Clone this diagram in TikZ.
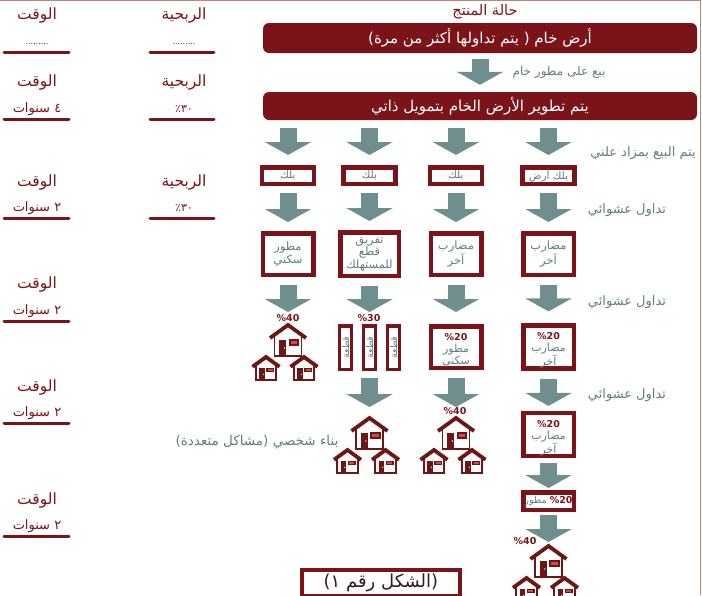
\documentclass[tikz,border=0pt]{standalone}
\usepackage{fontspec}
\usepackage{tikz}
\usetikzlibrary{arrows.meta}
\usetikzlibrary{positioning}
\TeXXeTstate=1
\newfontfamily\arabicfont[Script=Arabic]{DejaVu Sans}
\definecolor{darkred}{RGB}{122,20,24}
\definecolor{tealgray}{RGB}{111,143,143}
\definecolor{textgray}{RGB}{96,126,126}
\definecolor{framebrown}{RGB}{190,130,120}
\definecolor{housered}{RGB}{108,22,22}
\definecolor{winred}{RGB}{205,75,75}
\definecolor{capdark}{RGB}{55,25,25}
\newcommand{\artxt}[1]{\beginR #1\endR}
\newcommand{\pctthirty}{\hbox{٪}\hbox{٣}\hbox{٠}}
\newcommand{\pcttwenty}{\rule{0pt}{14pt}{\color{darkred}\bfseries\fontsize{9.5}{10}\selectfont\%20}}

\begin{document}
\begin{tikzpicture}[
        x=1pt, y=-1pt,
        every node/.append style={inner sep=0pt, font=\arabicfont},
        banner/.style={fill=darkred, rounded corners=6pt, minimum width=434pt, text=white, font=\arabicfont\fontsize{15}{17}\selectfont},
        fat/.style={draw=tealgray, line width=17pt, -{Triangle[width=46pt,length=13pt]}},
        note/.style={text=textgray, font=\arabicfont\fontsize{13}{15}\selectfont},
        head/.style={text=darkred, font=\arabicfont\fontsize{15.5}{17}\selectfont},
        val/.style={text=darkred, font=\arabicfont\fontsize{13}{15}\selectfont},
        uline/.style={draw=darkred, line width=3pt, line cap=round},
        blk/.style={draw=darkred, line width=4.5pt, fill=white, text=textgray, minimum width=52pt, minimum height=16.5pt, font=\arabicfont\fontsize{10.5}{11}\selectfont},
        box/.style={draw=darkred, line width=4.5pt, fill=white, text=textgray, align=center, minimum width=50.5pt, minimum height=41.5pt, font=\arabicfont\fontsize{11.5}{13}\selectfont},
        strip/.style={draw=darkred, line width=3.5pt, fill=white, text=textgray, rotate=90, minimum width=43.5pt, minimum height=12pt, font=\arabicfont\fontsize{9.5}{10}\selectfont},
        pct/.style={text=darkred, font=\arabicfont\bfseries\fontsize{9.5}{10}\selectfont},
        capbox/.style={draw=darkred, line width=4pt, fill=white, text=capdark, minimum width=158pt, minimum height=26pt, font=\arabicfont\fontsize{18}{20}\selectfont},
        house/.pic={
            \draw[housered, line width=3.8pt, line join=miter] (-18,13) -- (0,0) -- (18,13);
            \draw[housered, line width=1.8pt] (-13.5,10) -- (-13.5,31) -- (13.5,31) -- (13.5,10);
            \fill[housered] (-9,15) rectangle (-2,31);
            \fill[white] (-3.6,23) circle (0.8pt);
            \fill[housered] (0.5,14) rectangle (11,20.5);
            \fill[winred] (2.5,15.5) rectangle (9,19);
        }
    ]
        \useasboundingbox (0,0) rectangle (702,595);
        \draw[framebrown, line width=1pt] (0,0.5) -- (700.5,0.5) -- (700.5,595);

        % left columns
        \node (t1) [head] at (37,16) {\artxt{الوقت}};
        \node (t1v) [val] at (37,44) {\fontsize{8}{8}\selectfont .........};
        \node (t2) [head] at (37,83) {\artxt{الوقت}};
        \node (t2v) [val] at (37,109) {\artxt{٤ سنوات}};
        \node (t3) [head] at (37,182) {\artxt{الوقت}};
        \node (t3v) [val] at (37,208) {\artxt{٢ سنوات}};
        \node (t4) [head] at (37,284) {\artxt{الوقت}};
        \node (t4v) [val] at (37,311) {\artxt{٢ سنوات}};
        \node (t5) [head] at (37,387) {\artxt{الوقت}};
        \node (t5v) [val] at (37,413) {\artxt{٢ سنوات}};
        \node (t6) [head] at (37,500) {\artxt{الوقت}};
        \node (t6v) [val] at (37,526) {\artxt{٢ سنوات}};
        \node (r1) [head] at (184,16) {\artxt{الربحية}};
        \node (r1v) [val] at (184,44) {\fontsize{8}{8}\selectfont .........};
        \node (r2) [head] at (184,83) {\artxt{الربحية}};
        \node (r2v) [val, font=\arabicfont\fontsize{11}{13}\selectfont] at (184,109) {\pctthirty};
        \node (r3) [head] at (184,182) {\artxt{الربحية}};
        \node (r3v) [val, font=\arabicfont\fontsize{11}{13}\selectfont] at (184,208) {\pctthirty};

        \draw [uline] (4,52) -- (69,52);
        \draw [uline] (4,119) -- (69,119);
        \draw [uline] (4,218) -- (69,218);
        \draw [uline] (4,321) -- (69,321);
        \draw [uline] (4,423) -- (69,423);
        \draw [uline] (4,536) -- (69,536);
        \draw [uline] (150,52) -- (214,52);
        \draw [uline] (150,119) -- (214,119);
        \draw [uline] (150,218) -- (214,218);

        % product state
        \node (top) [head, font=\arabicfont\fontsize{14.5}{16}\selectfont] at (485,12) {\artxt{حالة المنتج}};
        \node (ban1) [banner, minimum height=30pt] at (480,38) {\artxt{أرض خام ( يتم تداولها أكثر من مرة)}};
        \node (ban2) [banner, minimum height=28pt] at (480,106) {\artxt{يتم تطوير الأرض الخام بتمويل ذاتي}};
        \node (n1) [note, font=\arabicfont\fontsize{12}{14}\selectfont] at (559,72) {\artxt{بيع على مطور خام}};
        \node (n2) [note] at (643,153) {\artxt{يتم البيع بمزاد علني}};
        \node (n3) [note] at (627,210) {\artxt{تداول عشوائي}};
        \node (n4) [note] at (627,302) {\artxt{تداول عشوائي}};
        \node (n5) [note] at (627,395) {\artxt{تداول عشوائي}};

        \node (b1) [blk] at (288,175.5) {\artxt{بلك}};
        \node (b2) [blk] at (369.5,175.5) {\artxt{بلك}};
        \node (b3) [blk] at (456,175.5) {\artxt{بلك}};
        \node (b4) [blk] at (548.5,175.5) {\artxt{بلك أرض}};

        \node (c1) [box] at (288,254) {\artxt{مطور}\\\artxt{سكني}};
        \node (c2) [box, minimum width=58.5pt, minimum height=43.5pt, font=\arabicfont\fontsize{11.5}{12.5}\selectfont] at (369.5,254) {\artxt{تفريق}\\\artxt{قطع}\\\artxt{للمستهلك}};
        \node (c3) [box] at (456,254) {\artxt{مضارب}\\\artxt{آخر}};
        \node (c4) [box] at (548.5,254) {\artxt{مضارب}\\\artxt{آخر}};

        \coordinate (h1) at (288,325);
        \node (p1) [pct] at (288,318) {\%40};
        \pic at (h1) {house};
        \pic [scale=0.75] at ([shift={(-22,32)}]h1) {house};
        \pic [scale=0.75] at ([shift={(16,32)}]h1) {house};

        \node (p2) [pct] at (369,318) {\%30};
        \node (s1) [strip] at (345.5,347.5) {\artxt{قطعة}};
        \node (s2) [strip] at (369.5,347.5) {\artxt{قطعة}};
        \node (s3) [strip] at (393.5,347.5) {\artxt{قطعة}};

        \node (d3) [box, font=\arabicfont\fontsize{11}{12}\selectfont] at (456,347) {\pcttwenty\\\artxt{مطور}\\\artxt{سكني}};
        \node (d4) [box, font=\arabicfont\fontsize{11}{12}\selectfont] at (548.5,347) {\pcttwenty\\\artxt{مضارب}\\\artxt{آخر}};

        \coordinate (g2) at (369.5,418);
        \pic at (g2) {house};
        \pic [scale=0.75] at ([shift={(-22,32)}]g2) {house};
        \pic [scale=0.75] at ([shift={(16,32)}]g2) {house};
        \node (n6) [note, font=\arabicfont\fontsize{13.5}{15}\selectfont] at (257,442) {\artxt{بناء شخصي (مشاكل متعددة)}};

        \coordinate (g3) at (456,418);
        \node (p3) [pct] at (455,411) {\%40};
        \pic at (g3) {house};
        \pic [scale=0.75] at ([shift={(-22,32)}]g3) {house};
        \pic [scale=0.75] at ([shift={(16,32)}]g3) {house};

        \node (g4) [box, font=\arabicfont\fontsize{11}{12}\selectfont] at (548.5,434.5) {\pcttwenty\\\artxt{مضارب}\\\artxt{آخر}};
        \node (i4) [blk, minimum width=50.5pt, minimum height=17.5pt, font=\arabicfont\fontsize{9.5}{10}\selectfont] at (548.5,501) {مطور {\color{darkred}\bfseries\%20}};

        \coordinate (h4) at (548.5,546);
        \node (p4) [pct] at (525,541) {\%40};
        \pic at (h4) {house};
        \pic [scale=0.75] at ([shift={(-22,32)}]h4) {house};
        \pic [scale=0.75] at ([shift={(16,32)}]h4) {house};

        \node (cap) [capbox] at (381,583) {\artxt{(الشكل رقم ١)}};

        % arrows
        \draw [fat, shorten <=6pt, shorten >=7pt] (ban1) -- (ban2);
        \draw [fat, shorten <=8pt, shorten >=10pt] (ban2.south -| b1) -- (b1);
        \draw [fat, shorten <=8pt, shorten >=10pt] (ban2.south -| b2) -- (b2);
        \draw [fat, shorten <=8pt, shorten >=10pt] (ban2.south -| b3) -- (b3);
        \draw [fat, shorten <=8pt, shorten >=10pt] (ban2.south -| b4) -- (b4);
        \draw [fat, shorten <=7pt, shorten >=9pt] (b1) -- (c1);
        \draw [fat, shorten <=7pt, shorten >=9pt] (b2) -- (c2);
        \draw [fat, shorten <=7pt, shorten >=9pt] (b3) -- (c3);
        \draw [fat, shorten <=7pt, shorten >=9pt] (b4) -- (c4);
        \draw [fat, shorten <=8pt, shorten >=13pt] (c1) -- (h1);
        \draw [fat, shorten <=8pt, shorten >=12pt] (c2) -- (s2);
        \draw [fat, shorten <=8pt, shorten >=12pt] (c3) -- (d3);
        \draw [fat, shorten <=8pt, shorten >=12pt] (c4) -- (d4);
        \draw [fat, shorten <=7pt, shorten >=11pt] (s2) -- (g2);
        \draw [fat, shorten <=8pt, shorten >=11pt] (d3) -- (g3);
        \draw [fat, shorten <=8pt, shorten >=5pt] (d4) -- (g4);
        \draw [fat, shorten <=5pt, shorten >=2pt] (g4) -- (i4);
        \draw [fat, shorten <=3pt, shorten >=4pt] (i4) -- (h4);
    \end{tikzpicture}
\end{document}
